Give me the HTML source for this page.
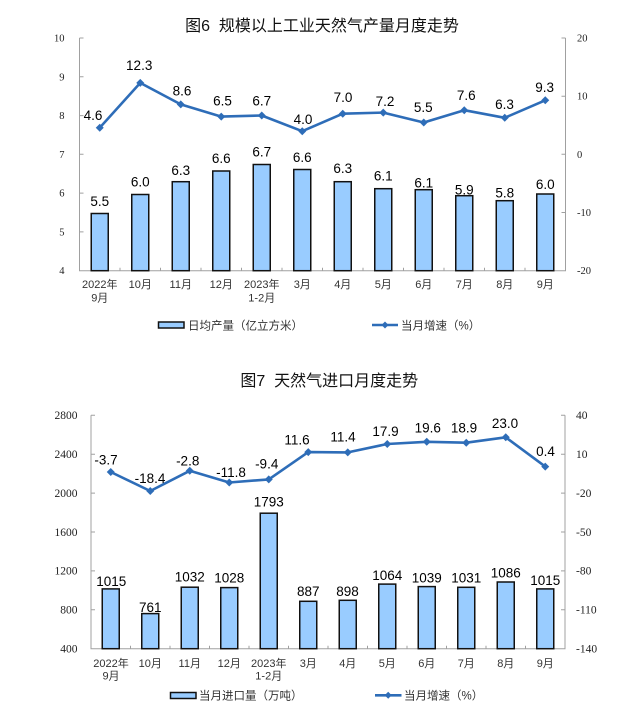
<!DOCTYPE html>
<html><head><meta charset="utf-8"><style>
html,body{margin:0;padding:0;background:#fff;}
svg{display:block;}
.t{font-family:"Liberation Sans","Noto Sans CJK SC",sans-serif;font-size:16px;fill:#111;}
.ax{font-family:"Liberation Serif",serif;fill:#222;}
.cat{font-family:"Liberation Sans","Noto Sans CJK SC",sans-serif;font-size:11px;fill:#333;text-anchor:middle;}
.dl{font-family:"Liberation Sans",sans-serif;font-size:13.5px;fill:#000;text-anchor:middle;}
.lg{font-family:"Liberation Sans","Noto Sans CJK SC",sans-serif;font-size:11.5px;fill:#333;}
.bar{fill:#99CCFF;stroke:#111;stroke-width:1.5;}
.axl{stroke:#A0A0A0;stroke-width:1;fill:none;}
.ln{stroke:#2E6DB8;stroke-width:2.6;fill:none;stroke-linejoin:round;}
.mk{fill:#2E6DB8;}
</style></head><body>
<svg width="640" height="716" viewBox="0 0 640 716" xmlns="http://www.w3.org/2000/svg">
<rect width="640" height="716" fill="#fff"/>

<!-- ================= Chart 1 ================= -->
<text class="t" x="322" y="31" text-anchor="middle">图6&#160; 规模以上工业天然气产量月度走势</text>

<path class="axl" d="M79.5 38 V270.7 H565.5 V38"/>
<g class="axl">
<path d="M79.5 38 h4 M79.5 76.8 h4 M79.5 115.6 h4 M79.5 154.3 h4 M79.5 193.1 h4 M79.5 231.9 h4"/>
<path d="M565.5 38 h-4 M565.5 96.2 h-4 M565.5 154.3 h-4 M565.5 212.5 h-4"/>
<path d="M120 270.7 v-3 M160.5 270.7 v-3 M201 270.7 v-3 M241.5 270.7 v-3 M282 270.7 v-3 M322.5 270.7 v-3 M363 270.7 v-3 M403.5 270.7 v-3 M444 270.7 v-3 M484.5 270.7 v-3 M525 270.7 v-3"/>
</g>
<g class="ax" font-size="10.5" text-anchor="end">
<text x="64.5" y="41.5">10</text>
<text x="64.5" y="80.3">9</text>
<text x="64.5" y="119.1">8</text>
<text x="64.5" y="157.8">7</text>
<text x="64.5" y="196.6">6</text>
<text x="64.5" y="235.4">5</text>
<text x="64.5" y="274.2">4</text>
</g>
<g class="ax" font-size="10.5">
<text x="577" y="41.5">20</text>
<text x="577" y="99.7">10</text>
<text x="577" y="157.8">0</text>
<text x="577" y="216">-10</text>
<text x="577" y="274.2">-20</text>
</g>

<g class="bar">
<rect x="91.25" y="213.5" width="17" height="57.2"/>
<rect x="131.75" y="194.5" width="17" height="76.2"/>
<rect x="172.25" y="181.7" width="17" height="89"/>
<rect x="212.75" y="171" width="17" height="99.7"/>
<rect x="253.25" y="164.5" width="17" height="106.2"/>
<rect x="293.75" y="169.5" width="17" height="101.2"/>
<rect x="334.25" y="181.7" width="17" height="89"/>
<rect x="374.75" y="188.7" width="17" height="82"/>
<rect x="415.25" y="189.7" width="17" height="81"/>
<rect x="455.75" y="195.7" width="17" height="75"/>
<rect x="496.25" y="200.7" width="17" height="70"/>
<rect x="536.75" y="194" width="17" height="76.7"/>
</g>
<g class="dl">
<text x="99.75" y="205.9">5.5</text>
<text x="140.25" y="186.4">6.0</text>
<text x="180.75" y="174.9">6.3</text>
<text x="221.25" y="163.2">6.6</text>
<text x="261.75" y="156.6">6.7</text>
<text x="302.25" y="161.9">6.6</text>
<text x="342.75" y="173.2">6.3</text>
<text x="383.25" y="180.6">6.1</text>
<text x="423.75" y="187.4">6.1</text>
<text x="464.25" y="194.4">5.9</text>
<text x="504.75" y="197.4">5.8</text>
<text x="545.25" y="188.9">6.0</text>
</g>

<polyline class="ln" points="99.75,127.7 140.25,82.9 180.75,104.4 221.25,116.6 261.75,115.5 302.25,131.2 342.75,113.7 383.25,112.6 423.75,122.5 464.25,110.2 504.75,117.8 545.25,100.3"/>
<g class="mk">
<path d="M99.75 123.7 l4 4 -4 4 -4 -4z"/>
<path d="M140.25 78.9 l4 4 -4 4 -4 -4z"/>
<path d="M180.75 100.4 l4 4 -4 4 -4 -4z"/>
<path d="M221.25 112.6 l4 4 -4 4 -4 -4z"/>
<path d="M261.75 111.5 l4 4 -4 4 -4 -4z"/>
<path d="M302.25 127.2 l4 4 -4 4 -4 -4z"/>
<path d="M342.75 109.7 l4 4 -4 4 -4 -4z"/>
<path d="M383.25 108.6 l4 4 -4 4 -4 -4z"/>
<path d="M423.75 118.5 l4 4 -4 4 -4 -4z"/>
<path d="M464.25 106.2 l4 4 -4 4 -4 -4z"/>
<path d="M504.75 113.8 l4 4 -4 4 -4 -4z"/>
<path d="M545.25 96.3 l4 4 -4 4 -4 -4z"/>
</g>
<g class="dl">
<text x="93" y="119.9">4.6</text>
<text x="139.2" y="69.9">12.3</text>
<text x="182" y="95.5">8.6</text>
<text x="222.5" y="105.5">6.5</text>
<text x="261.8" y="105.5">6.7</text>
<text x="303" y="123.9">4.0</text>
<text x="343" y="102.2">7.0</text>
<text x="385" y="105.9">7.2</text>
<text x="423.3" y="112.2">5.5</text>
<text x="466.3" y="99.9">7.6</text>
<text x="504.5" y="109.2">6.3</text>
<text x="544.7" y="92.2">9.3</text>
</g>

<g class="cat">
<text x="99.75" y="288.2">2022年</text>
<text x="99.75" y="301.7">9月</text>
<text x="140.25" y="288.2">10月</text>
<text x="180.75" y="288.2">11月</text>
<text x="221.25" y="288.2">12月</text>
<text x="261.75" y="288.2">2023年</text>
<text x="261.75" y="301.7">1-2月</text>
<text x="302.25" y="288.2">3月</text>
<text x="342.75" y="288.2">4月</text>
<text x="383.25" y="288.2">5月</text>
<text x="423.75" y="288.2">6月</text>
<text x="464.25" y="288.2">7月</text>
<text x="504.75" y="288.2">8月</text>
<text x="545.25" y="288.2">9月</text>
</g>

<rect class="bar" x="158.5" y="322" width="25.5" height="6"/>
<text class="lg" x="188" y="329.4">日均产量（亿立方米）</text>
<line class="ln" x1="372" y1="325" x2="398" y2="325" stroke-width="2.4"/>
<path class="mk" d="M385 321.5 l3.5 3.5 -3.5 3.5 -3.5 -3.5z"/>
<text class="lg" x="401" y="329.4">当月增速（%）</text>

<!-- ================= Chart 2 ================= -->
<text class="t" x="329.3" y="386" text-anchor="middle">图7&#160; 天然气进口月度走势</text>

<path class="axl" d="M91 415.3 V648.7 H565 V415.3"/>
<g class="axl">
<path d="M91 415.3 h4 M91 454.2 h4 M91 493.1 h4 M91 532 h4 M91 570.9 h4 M91 609.8 h4"/>
<path d="M565 415.3 h-4 M565 454.2 h-4 M565 493.1 h-4 M565 532 h-4 M565 570.9 h-4 M565 609.8 h-4"/>
<path d="M130.5 648.7 v-3 M170 648.7 v-3 M209.5 648.7 v-3 M249 648.7 v-3 M288.5 648.7 v-3 M328 648.7 v-3 M367.5 648.7 v-3 M407 648.7 v-3 M446.5 648.7 v-3 M486 648.7 v-3 M525.5 648.7 v-3"/>
</g>
<g class="ax" font-size="11.5" text-anchor="end">
<text x="77.5" y="419.1">2800</text>
<text x="77.5" y="458">2400</text>
<text x="77.5" y="496.9">2000</text>
<text x="77.5" y="535.8">1600</text>
<text x="77.5" y="574.7">1200</text>
<text x="77.5" y="613.6">800</text>
<text x="77.5" y="652.5">400</text>
</g>
<g class="ax" font-size="11.5">
<text x="576" y="419.1">40</text>
<text x="576" y="458">10</text>
<text x="576" y="496.9">-20</text>
<text x="576" y="535.8">-50</text>
<text x="576" y="574.7">-80</text>
<text x="576" y="613.6">-110</text>
<text x="576" y="652.5">-140</text>
</g>

<g class="bar">
<rect x="102.25" y="588.9" width="17" height="59.8"/>
<rect x="141.75" y="613.6" width="17" height="35.1"/>
<rect x="181.25" y="587.2" width="17" height="61.5"/>
<rect x="220.75" y="587.6" width="17" height="61.1"/>
<rect x="260.25" y="513.2" width="17" height="135.5"/>
<rect x="299.75" y="601.3" width="17" height="47.4"/>
<rect x="339.25" y="600.3" width="17" height="48.4"/>
<rect x="378.75" y="584.1" width="17" height="64.6"/>
<rect x="418.25" y="586.6" width="17" height="62.1"/>
<rect x="457.75" y="587.3" width="17" height="61.4"/>
<rect x="497.25" y="582" width="17" height="66.7"/>
<rect x="536.75" y="588.9" width="17" height="59.8"/>
</g>
<g class="dl">
<text x="111.3" y="585.9">1015</text>
<text x="150.25" y="611.9">761</text>
<text x="189.75" y="581.6">1032</text>
<text x="229.25" y="582.6">1028</text>
<text x="268.75" y="506.6">1793</text>
<text x="308.25" y="595.9">887</text>
<text x="347.5" y="595.9">898</text>
<text x="387.25" y="579.9">1064</text>
<text x="426.75" y="582.6">1039</text>
<text x="466.25" y="582.6">1031</text>
<text x="505.75" y="577.6">1086</text>
<text x="545.25" y="585.2">1015</text>
</g>

<polyline class="ln" points="110.75,472 150.25,491 189.75,470.8 229.25,482.5 268.75,479.4 308.25,452.1 347.75,452.4 387.25,444 426.75,441.8 466.25,442.7 505.75,437.3 545.25,466.6"/>
<g class="mk">
<path d="M110.75 468 l4 4 -4 4 -4 -4z"/>
<path d="M150.25 487 l4 4 -4 4 -4 -4z"/>
<path d="M189.75 466.8 l4 4 -4 4 -4 -4z"/>
<path d="M229.25 478.5 l4 4 -4 4 -4 -4z"/>
<path d="M268.75 475.4 l4 4 -4 4 -4 -4z"/>
<path d="M308.25 448.1 l4 4 -4 4 -4 -4z"/>
<path d="M347.75 448.4 l4 4 -4 4 -4 -4z"/>
<path d="M387.25 440 l4 4 -4 4 -4 -4z"/>
<path d="M426.75 437.8 l4 4 -4 4 -4 -4z"/>
<path d="M466.25 438.7 l4 4 -4 4 -4 -4z"/>
<path d="M505.75 433.3 l4 4 -4 4 -4 -4z"/>
<path d="M545.25 462.6 l4 4 -4 4 -4 -4z"/>
</g>
<g class="dl">
<text x="106" y="464.5">-3.7</text>
<text x="150" y="482.8">-18.4</text>
<text x="187.7" y="465.3">-2.8</text>
<text x="231" y="476.8">-11.8</text>
<text x="266.7" y="468.5">-9.4</text>
<text x="297" y="444.5">11.6</text>
<text x="343" y="441.5">11.4</text>
<text x="385.5" y="435.8">17.9</text>
<text x="427.8" y="432.5">19.6</text>
<text x="464" y="432.5">18.9</text>
<text x="505" y="428.1">23.0</text>
<text x="545.5" y="455.8">0.4</text>
</g>

<g class="cat">
<text x="111" y="667">2022年</text>
<text x="111" y="679.5">9月</text>
<text x="150.25" y="667">10月</text>
<text x="189.75" y="667">11月</text>
<text x="229.25" y="667">12月</text>
<text x="268.75" y="667">2023年</text>
<text x="268.75" y="679.5">1-2月</text>
<text x="308.25" y="667">3月</text>
<text x="347.75" y="667">4月</text>
<text x="387.25" y="667">5月</text>
<text x="426.75" y="667">6月</text>
<text x="466.25" y="667">7月</text>
<text x="505.75" y="667">8月</text>
<text x="545.25" y="667">9月</text>
</g>

<rect class="bar" x="170.5" y="692.5" width="25.5" height="6"/>
<text class="lg" x="199" y="699.7">当月进口量（万吨）</text>
<line class="ln" x1="375" y1="695.3" x2="401.5" y2="695.3" stroke-width="2.4"/>
<path class="mk" d="M388.2 691.8 l3.5 3.5 -3.5 3.5 -3.5 -3.5z"/>
<text class="lg" x="404" y="699.7">当月增速（%）</text>
</svg>
</body></html>
